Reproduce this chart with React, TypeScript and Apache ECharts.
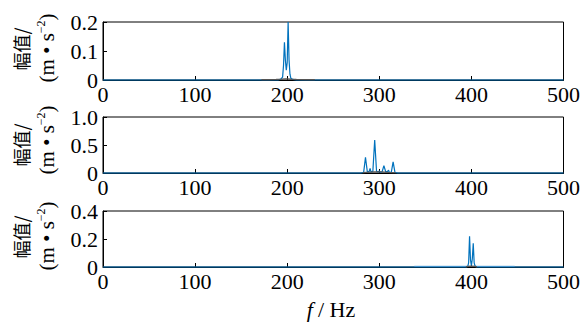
import React, { useEffect, useRef } from "react";
import * as echarts from "echarts";

// Panel 1 (around 200 Hz)
const f1 = [0, 190, 193, 195, 196, 197, 198, 199, 200, 201, 202, 203, 204, 206, 210, 500];
const a1 = [0, 0, 0.003, 0.01, 0.05, 0.13, 0.07, 0.034, 0.06, 0.2, 0.07, 0.02, 0.006, 0.002, 0, 0];
const g1f = [172, 180, 188, 194, 198, 200, 204, 210, 220, 230];
const g1a = [0.001, 0.001, 0.002, 0.003, 0.004, 0.004, 0.003, 0.002, 0.001, 0.001];

// Panel 2 (around 300 Hz)
const f2 = [0, 280, 283, 285, 287, 289, 290, 291, 293, 295, 297, 299, 300, 301, 303, 305, 307, 309, 310, 311, 313, 315, 317, 320, 500];
const a2 = [0, 0, 0.01, 0.28, 0.02, 0.03, 0.08, 0.02, 0.03, 0.59, 0.03, 0.02, 0.04, 0.01, 0.02, 0.13, 0.02, 0.03, 0.05, 0.01, 0.01, 0.2, 0.01, 0, 0];
const g2f = [282, 286, 290, 294, 298, 302, 306, 310, 314, 318];
const g2a = [0.005, 0.01, 0.015, 0.02, 0.02, 0.02, 0.015, 0.01, 0.008, 0.004];

// Panel 3 (around 400 Hz)
const f3 = [0, 394, 396, 397, 398, 399, 400, 401, 402, 403, 404, 406, 500];
const a3 = [0, 0, 0.004, 0.03, 0.22, 0.05, 0.01, 0.06, 0.17, 0.03, 0.006, 0, 0];
const l3f = [338, 360, 380, 420, 440, 447];
const l3a = [0.004, 0.004, 0.004, 0.004, 0.004, 0.004];
const g3f = [394, 397, 400, 403, 406];
const g3a = [0.003, 0.005, 0.006, 0.005, 0.003];

const xTicks = [0, 100, 200, 300, 400, 500];
const yMax = [0.2, 1.0, 0.4];
const yStep = [0.1, 0.5, 0.2];

const pairs = (xs: number[], ys: number[]) => xs.map((x, i) => [x, ys[i]]);

const serif = "Liberation Serif";
const cjk = "Noto Sans CJK SC";

export default function App() {
  const ref = useRef<HTMLDivElement>(null);
  useEffect(() => {
    if (!ref.current) return;
    const chart = echarts.init(ref.current, null, { renderer: "svg" });
    const tops = [22, 117, 211];
    const h = [58, 56, 56];
    const grids = tops.map((t, i) => ({
      left: 103,
      top: t,
      width: 464,
      height: h[i],
      show: true,
      borderColor: "#000",
      borderWidth: 1,
      backgroundColor: "transparent",
    }));
    const xAxes = tops.map((_, i) => ({
      type: "value",
      gridIndex: i,
      min: xTicks[0],
      max: xTicks[xTicks.length - 1],
      interval: 100,
      axisLine: { show: true, lineStyle: { color: "#000", width: 1 } },
      axisTick: { show: true, inside: true, length: 4, lineStyle: { color: "#000" } },
      splitLine: { show: false },
      axisLabel: { color: "#000", fontFamily: serif, fontSize: 22, margin: 3 },
    }));
    const yAxes = tops.map((_, i) => ({
      type: "value",
      gridIndex: i,
      min: 0,
      max: yMax[i],
      interval: yStep[i],
      axisLine: { show: true, lineStyle: { color: "#000", width: 1 } },
      axisTick: { show: true, inside: true, length: 4, lineStyle: { color: "#000" } },
      splitLine: { show: false },
      axisLabel: {
        color: "#000",
        fontFamily: serif,
        fontSize: 22,
        margin: 5,
        formatter: (v: number) => (v === 0 ? "0" : v.toFixed(1)),
      },
    }));
    const line = (i: number, data: number[][], color: string, z = 2) => ({
      type: "line",
      xAxisIndex: i,
      yAxisIndex: i,
      data,
      showSymbol: false,
      symbol: "none",
      clip: false,
      z,
      lineStyle: { color, width: 1.2 },
    });
    const series = [
      line(0, pairs(f1, a1), "#0072BD"),
      line(0, pairs(g1f, g1a), "#555555", 3),
      line(1, pairs(f2, a2), "#0072BD"),
      line(1, pairs(g2f, g2a), "#555555", 3),
      line(2, pairs(f3, a3), "#0072BD"),
      line(2, pairs(l3f, l3a), "#7fb2dc", 1),
      line(2, pairs(g3f, g3a), "#555555", 3),
    ];
    const labelCenters = [
      [49, 48],
      [145, 140],
      [237, 236],
    ];
    const graphic: any[] = [];
    labelCenters.forEach(([c1, c2]) => {
      graphic.push({
        type: "text",
        x: 21,
        y: c1,
        rotation: Math.PI / 2,
        style: {
          text: "幅值/",
          fontFamily: cjk,
          fontSize: 18,
          fill: "#000",
          align: "center",
          verticalAlign: "middle",
        },
      });
      graphic.push({
        type: "text",
        x: 46,
        y: c2,
        rotation: Math.PI / 2,
        style: {
          text: "{a|(m • s}{s|−2}{a|)}",
          fill: "#000",
          align: "center",
          verticalAlign: "middle",
          rich: {
            a: { fontFamily: serif, fontSize: 21, fill: "#000", verticalAlign: "bottom" },
            s: { fontFamily: serif, fontSize: 12, fill: "#000", verticalAlign: "top", padding: [0, 0, 10, 0] },
          },
        },
      });
    });
    graphic.push({
      type: "text",
      x: 331,
      y: 309,
      style: {
        text: "{i|f}{n|/ Hz}",
        align: "center",
        verticalAlign: "middle",
        rich: {
          i: { fontFamily: serif, fontSize: 22, fontStyle: "italic", fill: "#000", padding: [0, 5, 0, 0] },
          n: { fontFamily: serif, fontSize: 22, fill: "#000" },
        },
      },
    });
    chart.setOption({
      animation: false,
      backgroundColor: "#fff",
      grid: grids,
      xAxis: xAxes,
      yAxis: yAxes,
      series,
      graphic,
    });
    return () => chart.dispose();
  }, []);
  return (
    <div
      ref={ref}
      style={{ position: "fixed", left: 0, top: 0, width: 583, height: 325 }}
    />
  );
}
